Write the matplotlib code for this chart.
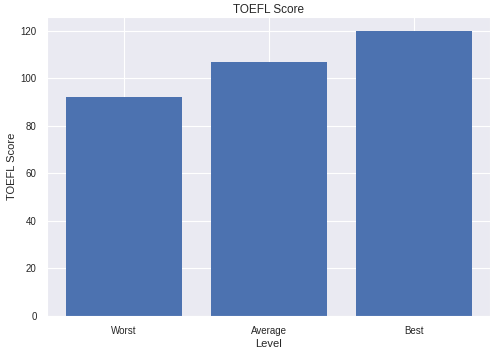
import matplotlib
matplotlib.use('Agg')
import matplotlib.pyplot as plt
import seaborn as sns

levels = ['Worst', 'Average', 'Best']
scores = [92, 107, 120]

sns.set_style('darkgrid')
plt.rcParams['font.family'] = ['Liberation Sans', 'DejaVu Sans']

fig, ax = plt.subplots(figsize=(4.97, 3.48), dpi=100)
ax.bar(levels, scores, color='#4C72B0', width=0.8, linewidth=0)
ax.set_title('TOEFL Score', fontsize=8.5, pad=3)
ax.set_xlabel('Level', fontsize=8, labelpad=2)
ax.set_ylabel('TOEFL Score', fontsize=8, labelpad=3)
ax.tick_params(labelsize=7, pad=4)
ax.set_ylim(0, 126)
ax.set_xlim(-0.53, 2.52)
ax.set_yticks(range(0, 121, 20))

fig.subplots_adjust(left=0.095, right=0.985, top=0.952, bottom=0.092)
fig.savefig('out.png', dpi=100)
